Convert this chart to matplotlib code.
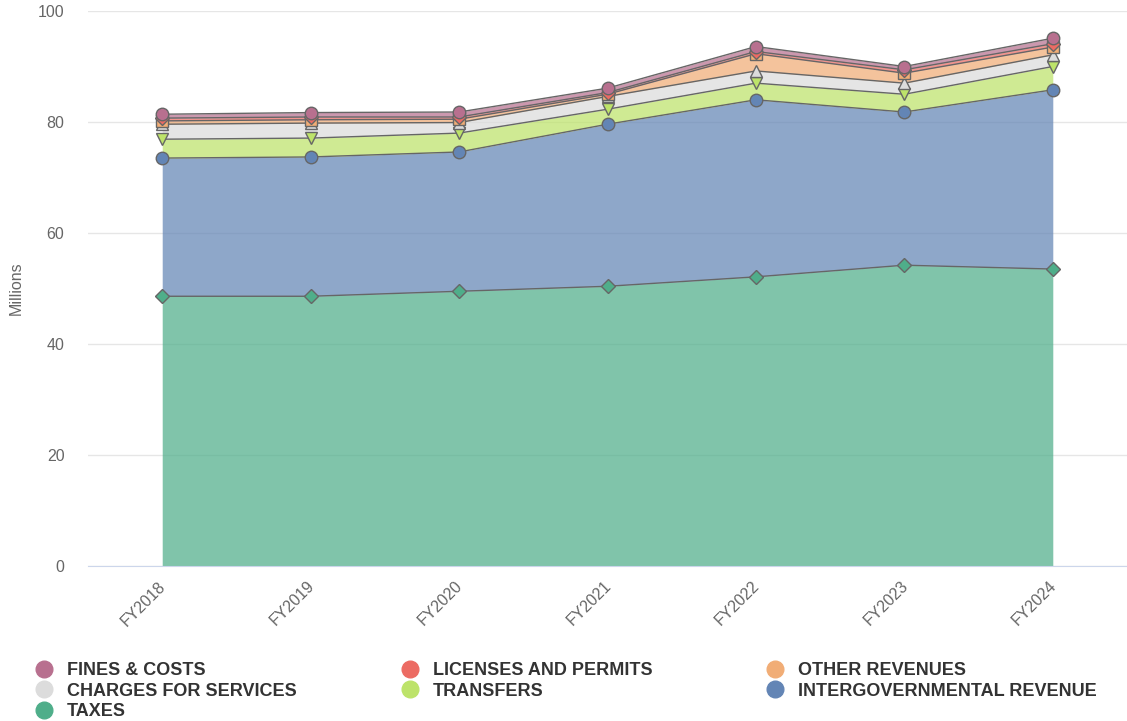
import numpy as np
import matplotlib
matplotlib.use("Agg")
from matplotlib import pyplot as plt
from matplotlib import transforms
from matplotlib.lines import Line2D

plt.rcParams['font.family'] = ['Liberation Sans', 'DejaVu Sans']

years = ["FY2018", "FY2019", "FY2020", "FY2021", "FY2022", "FY2023", "FY2024"]

# revenue by source, millions (stacked bottom to top)
taxes = [48.6, 48.6, 49.5, 50.4, 52.1, 54.2, 53.5]
intergovernmental = [24.9, 25.1, 25.1, 29.2, 31.9, 27.6, 32.3]
transfers = [3.4, 3.4, 3.4, 2.7, 3.0, 3.2, 4.2]
charges = [2.7, 2.7, 1.9, 2.3, 2.2, 2.0, 2.1]
other_revenues = [0.6, 0.6, 0.6, 0.4, 3.1, 1.8, 1.4]
licenses = [0.5, 0.5, 0.4, 0.3, 0.4, 0.6, 0.6]
fines = [0.7, 0.8, 0.9, 0.8, 0.9, 0.6, 1.0]

series = [
    ("TAXES", taxes, "#4fae8a", "D"),
    ("INTERGOVERNMENTAL REVENUE", intergovernmental, "#6385b5", "o"),
    ("TRANSFERS", transfers, "#bde36a", "v"),
    ("CHARGES FOR SERVICES", charges, "#dcdcdc", "^"),
    ("OTHER REVENUES", other_revenues, "#f1ad76", "s"),
    ("LICENSES AND PERMITS", licenses, "#ec6b63", "D"),
    ("FINES & COSTS", fines, "#b8708f", "o"),
]

fig = plt.figure(figsize=(11.27, 7.21), dpi=100)
ax = fig.add_axes([88 / 1127, 1 - 566 / 721, 1 - 88 / 1127, (566 - 11) / 721])

x = np.arange(len(years))
base = np.zeros(len(years))
for name, vals, color, marker in series:
    top = base + np.array(vals)
    ax.fill_between(x, base, top, color=color, alpha=0.72, lw=0, zorder=2)
    ax.plot(x, top, color="#666666", lw=1, zorder=3)
    ax.plot(x, top, ls="none", marker=marker, ms=9 if marker != "D" else 7,
            mfc=color, mec="#666666", mew=1, zorder=4)
    base = top

ax.set_xlim(-0.5, 6.5)
ax.set_ylim(0, 100)
ax.set_yticks(range(0, 101, 20))
ax.set_xticks(x)
ax.set_xticklabels(years, rotation=45, ha="right", rotation_mode="anchor")
ax.tick_params(axis="y", length=0, labelsize=11.5, labelcolor="#666666", pad=17)
ax.tick_params(axis="x", length=0, labelsize=11.5, labelcolor="#666666", pad=9)
# nudge the rotated year labels a little to the left
shift = transforms.ScaledTranslation(-4 / 100, 0, fig.dpi_scale_trans)
for lbl in ax.get_xticklabels():
    lbl.set_transform(lbl.get_transform() + shift)
ax.grid(axis="y", color="#e6e6e6", lw=1, zorder=0)
for side in ["top", "right", "left"]:
    ax.spines[side].set_visible(False)
ax.spines["bottom"].set_color("#ccd6eb")
ax.spines["bottom"].set_zorder(5)
ax.set_ylabel("Millions", fontsize=11.5, color="#666666")
ax.yaxis.set_label_coords(-0.062, 0.5)

# legend laid out in three columns, row by row
by_name = {s[0]: s for s in series}
columns = [
    ["FINES & COSTS", "CHARGES FOR SERVICES", "TAXES"],
    ["LICENSES AND PERMITS", "TRANSFERS"],
    ["OTHER REVENUES", "INTERGOVERNMENTAL REVENUE"],
]
col_x = [37 / 1127, 403 / 1127, 768 / 1127]
for cx, names in zip(col_x, columns):
    handles = [Line2D([], [], ls="none", marker="o", ms=12,
                      mfc=by_name[n][2], mec=by_name[n][2]) for n in names]
    leg = fig.legend(handles, names, loc="upper left", bbox_to_anchor=(cx, 1 - 662 / 721),
                     frameon=False, handlelength=0.8, handletextpad=0.85,
                     labelspacing=0.2, borderpad=0, borderaxespad=0,
                     prop={"weight": "bold", "size": 13})
    for t in leg.get_texts():
        t.set_color("#333333")

fig.savefig("out.png", dpi=100)
